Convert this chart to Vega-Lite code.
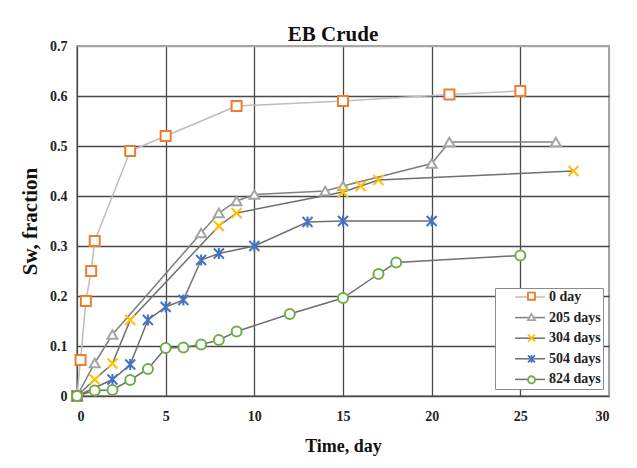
{
  "$schema": "https://vega.github.io/schema/vega-lite/v6.json",
  "autosize": {"type": "none"},
  "padding": {"left": 77, "top": 46, "right": 28, "bottom": 72},
  "width": 532,
  "height": 350,
  "background": "white",
  "title": {"text": "EB Crude", "font": "Liberation Serif", "fontSize": 21, "fontWeight": "bold", "color": "#111", "anchor": "middle", "offset": -6, "dx": -10},
  "config": {
    "view": {"stroke": "#a6a6a6", "strokeWidth": 2},
    "axis": {"labelFont": "Liberation Serif", "labelFontWeight": "bold", "labelFontSize": 14, "labelColor": "#222", "titleFont": "Liberation Serif", "titleFontWeight": "bold", "titleColor": "#111", "ticks": false, "domain": false, "gridColor": "#4a4a4a", "gridWidth": 1.3, "gridOpacity": 1},
    "legend": {"labelFont": "Liberation Serif", "labelFontWeight": "bold", "labelFontSize": 14, "labelColor": "#222", "gridAlign": "all"}
  },
  "data": {"values": [
    {"series": "0 day", "t": 0, "sw": 0},
    {"series": "0 day", "t": 0.2, "sw": 0.072},
    {"series": "0 day", "t": 0.5, "sw": 0.19},
    {"series": "0 day", "t": 0.8, "sw": 0.25},
    {"series": "0 day", "t": 1, "sw": 0.31},
    {"series": "0 day", "t": 3, "sw": 0.49},
    {"series": "0 day", "t": 5, "sw": 0.52},
    {"series": "0 day", "t": 9, "sw": 0.58},
    {"series": "0 day", "t": 15, "sw": 0.59},
    {"series": "0 day", "t": 21, "sw": 0.603},
    {"series": "0 day", "t": 25, "sw": 0.61},
    {"series": "205 days", "t": 0, "sw": 0},
    {"series": "205 days", "t": 1, "sw": 0.066},
    {"series": "205 days", "t": 2, "sw": 0.123},
    {"series": "205 days", "t": 7, "sw": 0.326},
    {"series": "205 days", "t": 8, "sw": 0.366},
    {"series": "205 days", "t": 9, "sw": 0.39},
    {"series": "205 days", "t": 10, "sw": 0.403},
    {"series": "205 days", "t": 14, "sw": 0.41},
    {"series": "205 days", "t": 15, "sw": 0.42},
    {"series": "205 days", "t": 20, "sw": 0.465},
    {"series": "205 days", "t": 21, "sw": 0.508},
    {"series": "205 days", "t": 27, "sw": 0.508},
    {"series": "304 days", "t": 0, "sw": 0},
    {"series": "304 days", "t": 1, "sw": 0.033},
    {"series": "304 days", "t": 2, "sw": 0.065},
    {"series": "304 days", "t": 3, "sw": 0.152},
    {"series": "304 days", "t": 8, "sw": 0.34},
    {"series": "304 days", "t": 9, "sw": 0.366},
    {"series": "304 days", "t": 15, "sw": 0.408},
    {"series": "304 days", "t": 16, "sw": 0.42},
    {"series": "304 days", "t": 17, "sw": 0.432},
    {"series": "304 days", "t": 28, "sw": 0.45},
    {"series": "504 days", "t": 0, "sw": 0},
    {"series": "504 days", "t": 2, "sw": 0.033},
    {"series": "504 days", "t": 3, "sw": 0.063},
    {"series": "504 days", "t": 4, "sw": 0.152},
    {"series": "504 days", "t": 5, "sw": 0.178},
    {"series": "504 days", "t": 6, "sw": 0.192},
    {"series": "504 days", "t": 7, "sw": 0.272},
    {"series": "504 days", "t": 8, "sw": 0.285},
    {"series": "504 days", "t": 10, "sw": 0.3},
    {"series": "504 days", "t": 13, "sw": 0.348},
    {"series": "504 days", "t": 15, "sw": 0.35},
    {"series": "504 days", "t": 20, "sw": 0.35},
    {"series": "824 days", "t": 0, "sw": 0},
    {"series": "824 days", "t": 1, "sw": 0.011},
    {"series": "824 days", "t": 2, "sw": 0.012},
    {"series": "824 days", "t": 3, "sw": 0.032},
    {"series": "824 days", "t": 4, "sw": 0.054},
    {"series": "824 days", "t": 5, "sw": 0.096},
    {"series": "824 days", "t": 6, "sw": 0.097},
    {"series": "824 days", "t": 7, "sw": 0.103},
    {"series": "824 days", "t": 8, "sw": 0.112},
    {"series": "824 days", "t": 9, "sw": 0.129},
    {"series": "824 days", "t": 12, "sw": 0.164},
    {"series": "824 days", "t": 15, "sw": 0.196},
    {"series": "824 days", "t": 17, "sw": 0.244},
    {"series": "824 days", "t": 18, "sw": 0.267},
    {"series": "824 days", "t": 25, "sw": 0.281}
  ]},
  "encoding": {
    "x": {"field": "t", "type": "quantitative", "scale": {"domain": [0, 30], "nice": false, "zero": false},
      "axis": {"values": [0, 5, 10, 15, 20, 25, 30], "title": "Time, day", "titleFontSize": 18, "labelPadding": 13, "titlePadding": 14,
        "gridColor": {"condition": {"test": "datum.value == 30", "value": "#a6a6a6"}, "value": "#4a4a4a"}}},
    "y": {"field": "sw", "type": "quantitative", "scale": {"domain": [0, 0.7], "nice": false},
      "axis": {"values": [0, 0.1, 0.2, 0.3, 0.4, 0.5, 0.6, 0.7], "title": "Sw, fraction", "titleFontSize": 21, "labelPadding": 10, "titlePadding": 9,
        "labelExpr": "datum.value == 0 ? '0' : format(datum.value, '.1f')",
        "gridColor": {"condition": {"test": "datum.value >= 0.69", "value": "#a6a6a6"}, "value": "#4a4a4a"}}}
  },
  "layer": [
    {
      "mark": {"type": "line", "strokeWidth": 1.5},
      "encoding": {
        "color": {"field": "series", "type": "nominal",
          "scale": {"domain": ["0 day", "205 days", "304 days", "504 days", "824 days"], "range": ["#bdbdbd", "#7f7f7f", "#6f6f6f", "#6f6f6f", "#6f6f6f"]},
          "legend": {"title": null, "orient": "none", "legendX": 418, "legendY": 242, "symbolType": "M-3,0H3", "symbolSize": 100, "symbolStrokeWidth": 1.5,
            "fillColor": "white", "strokeColor": "#8c8c8c", "padding": 2, "rowPadding": 6.6, "symbolOffset": 26, "labelOffset": 12, "zindex": 0}}
      }
    },
    {
      "mark": {"type": "point", "filled": false, "fill": "white", "fillOpacity": 1, "strokeWidth": 2, "opacity": 1, "size": 100},
      "encoding": {
        "stroke": {"field": "series", "type": "nominal",
          "scale": {"range": ["#ED7D31", "#A5A5A5", "#FFC000", "#4472C4", "#70AD47"]},
          "legend": {"title": null, "orient": "none", "legendX": 418, "legendY": 241.2, "symbolSize": 50, "symbolStrokeWidth": 1.8, "symbolFillColor": "white",
            "padding": 2, "rowPadding": 4.9, "symbolOffset": 27.5, "labelOffset": 0, "labelExpr": "''", "zindex": 1}},
        "shape": {"field": "series", "type": "nominal",
          "scale": {"range": ["square", "triangle-up", "M-1,-1L1,1M-1,1L1,-1", "M-1,-1L1,1M-1,1L1,-1M0,-1.1L0,1.1", "circle"]},
          "legend": {"title": null, "orient": "none", "legendX": 418, "legendY": 241.2, "symbolSize": 50, "symbolStrokeWidth": 1.8, "symbolFillColor": "white",
            "padding": 2, "rowPadding": 4.9, "symbolOffset": 27.5, "labelOffset": 0, "labelExpr": "''", "zindex": 1}}
      }
    }
  ]
}
